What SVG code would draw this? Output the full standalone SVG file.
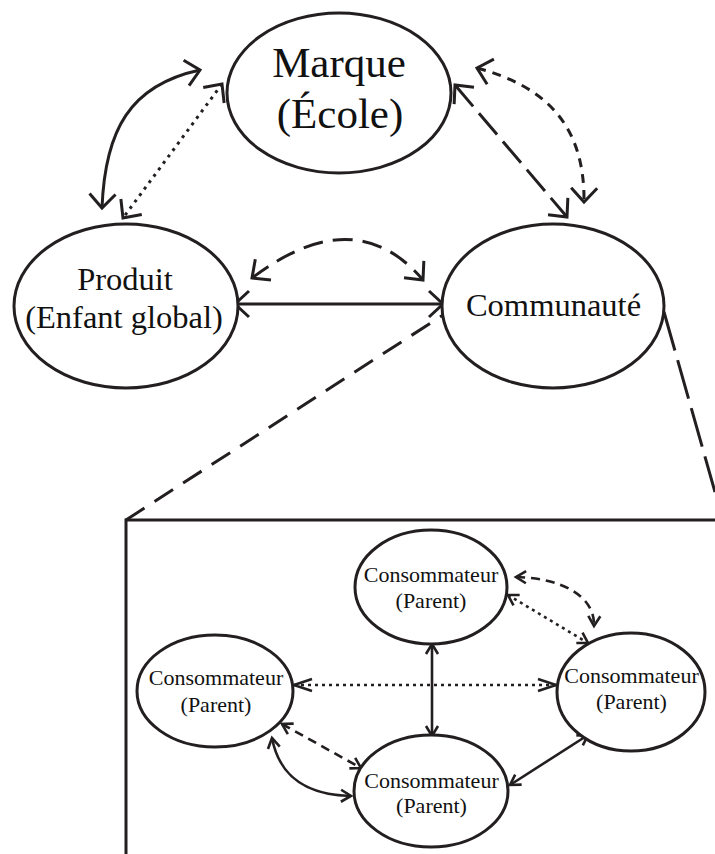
<svg xmlns="http://www.w3.org/2000/svg" width="715" height="854" viewBox="0 0 715 854">
<style>
.node{fill:#fff;stroke:#231f20;stroke-width:3}
.lbl{font-family:"Liberation Serif","Times New Roman",serif;fill:#111;text-anchor:middle}
.big{font-size:43px}
.mid{font-size:32.5px}
.sm{font-size:22px}
.c{fill:none;stroke:#231f20;stroke-width:3}
.c2{fill:none;stroke:#231f20;stroke-width:2.6}
.dot{stroke-dasharray:3 5}
.dot2{stroke-dasharray:3 4}
.lng{stroke-dasharray:28 9}
.dsh{stroke-dasharray:20 10}
.sd{stroke-dasharray:9 7}
.sd2{stroke-dasharray:9 6}
.zl{stroke-dasharray:22 12}
.zr{stroke-dasharray:40 10}
.mk{fill:none;stroke:#231f20;stroke-width:3;stroke-dasharray:none;stroke-linejoin:miter}
.mk2{fill:none;stroke:#231f20;stroke-width:2.6;stroke-dasharray:none}
</style>
<defs>
<marker id="aB" markerUnits="userSpaceOnUse" orient="auto-start-reverse" overflow="visible" markerWidth="1" markerHeight="1" refX="0" refY="0"><path class="mk" d="M-14,-13 L0,0 L-14,13"/></marker>
<marker id="aN" markerUnits="userSpaceOnUse" orient="auto-start-reverse" overflow="visible" markerWidth="1" markerHeight="1" refX="0" refY="0"><path class="mk2" d="M-18,-6 L0,0 L-18,6"/></marker>
<marker id="aS" markerUnits="userSpaceOnUse" orient="auto-start-reverse" overflow="visible" markerWidth="1" markerHeight="1" refX="0" refY="0"><path class="mk2" d="M-10,-6 L0,0 L-10,6"/></marker>
</defs>

<g id="zoom-box">
<path class="c" d="M126,854 L126,520 L715,520"/>
<path class="c zl" d="M126,520 L443,315"/>
<path class="c zr" d="M664,312 L715,492"/>
</g>

<g id="connectors">
<path class="c" d="M102,208 C105,130 130,85 200,70" marker-start="url(#aB)" marker-end="url(#aB)"/>
<path class="c dot" d="M222,84 L123,218" marker-start="url(#aB)" marker-end="url(#aB)"/>
<path class="c lng" d="M455,85 L567,217" marker-start="url(#aB)" marker-end="url(#aB)"/>
<path class="c sd" d="M477,68 C540,85 585,120 584,202" marker-start="url(#aB)" marker-end="url(#aB)"/>
<path class="c" d="M235,304 L443,304" marker-start="url(#aB)" marker-end="url(#aB)"/>
<path class="c dsh" d="M252,278 Q355,200 423,280" marker-start="url(#aB)" marker-end="url(#aB)"/>

<path class="c2" d="M432,644 L432,736" marker-start="url(#aS)" marker-end="url(#aS)"/>
<path class="c2 dot2" d="M294,685 L556,685" marker-start="url(#aN)" marker-end="url(#aN)"/>
<path class="c2 dot2" d="M508,595 L588,643" marker-start="url(#aS)" marker-end="url(#aS)"/>
<path class="c2 sd2" d="M516,577 C560,578 595,595 594,626" marker-start="url(#aS)" marker-end="url(#aS)"/>
<path class="c2 sd2" d="M282,724 L361,768" marker-start="url(#aS)" marker-end="url(#aS)"/>
<path class="c2" d="M272,738 C280,780 310,795 351,796" marker-start="url(#aS)" marker-end="url(#aS)"/>
<path class="c2" d="M510,785 L588,735" marker-start="url(#aS)" marker-end="url(#aS)"/>
</g>

<g id="marque">
<ellipse class="node" cx="339" cy="93" rx="112" ry="80"/>
<text class="lbl big" x="339" y="77">Marque</text>
<text class="lbl big" x="340" y="128">(École)</text>
</g>
<g id="produit">
<ellipse class="node" cx="126" cy="306" rx="112" ry="82"/>
<text class="lbl mid" x="125" y="290">Produit</text>
<text class="lbl mid" x="124" y="328">(Enfant global)</text>
</g>
<g id="communaute">
<ellipse class="node" cx="553" cy="306" rx="111" ry="82"/>
<text class="lbl mid" x="553.5" y="316">Communauté</text>
</g>

<g id="consommateur-haut">
<ellipse class="node" cx="431" cy="587" rx="76" ry="57"/>
<text class="lbl sm" x="431" y="582">Consommateur</text>
<text class="lbl sm" x="431" y="608">(Parent)</text>
</g>
<g id="consommateur-gauche">
<ellipse class="node" cx="215" cy="691" rx="78" ry="56"/>
<text class="lbl sm" x="216" y="685">Consommateur</text>
<text class="lbl sm" x="216" y="712">(Parent)</text>
</g>
<g id="consommateur-droite">
<ellipse class="node" cx="631" cy="692" rx="74" ry="59"/>
<text class="lbl sm" x="631.5" y="683">Consommateur</text>
<text class="lbl sm" x="631.5" y="709">(Parent)</text>
</g>
<g id="consommateur-bas">
<ellipse class="node" cx="431" cy="791" rx="77" ry="56"/>
<text class="lbl sm" x="431.5" y="788">Consommateur</text>
<text class="lbl sm" x="431.5" y="813">(Parent)</text>
</g>
</svg>
